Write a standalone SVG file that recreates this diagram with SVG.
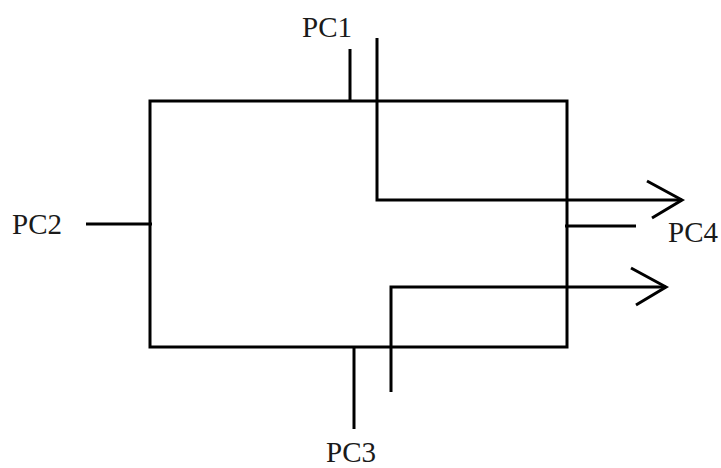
<svg xmlns="http://www.w3.org/2000/svg" width="721" height="468" viewBox="0 0 721 468">
<style>
.l{fill:none;stroke:#000;stroke-width:3;stroke-linecap:butt;stroke-linejoin:miter}
.t{font-family:"Liberation Serif","Times New Roman",serif;font-size:29px;fill:#1a1a1a}
</style>
<rect width="721" height="468" fill="#fff"/>
<g id="block"><rect class="l" x="150" y="101" width="417" height="246"/></g>
<g id="connectors">
<line class="l" x1="350" y1="49" x2="350" y2="101"/>
<line class="l" x1="86" y1="224" x2="152" y2="224"/>
<line class="l" x1="565" y1="226" x2="636" y2="226"/>
<line class="l" x1="354" y1="347" x2="354" y2="429"/>
<polyline class="l" points="377,38 377,200 682,200"/>
<polyline class="l" points="647,181 682,200 652,218"/>
<polyline class="l" points="391,392 391,287 666,287"/>
<polyline class="l" points="631,268 666,287 636,305"/>
</g>
<g id="PC1"><text class="t" x="302" y="37">PC1</text></g>
<g id="PC2"><text class="t" x="12" y="234">PC2</text></g>
<g id="PC3"><text class="t" x="326" y="462">PC3</text></g>
<g id="PC4"><text class="t" x="668" y="242">PC4</text></g>
</svg>
